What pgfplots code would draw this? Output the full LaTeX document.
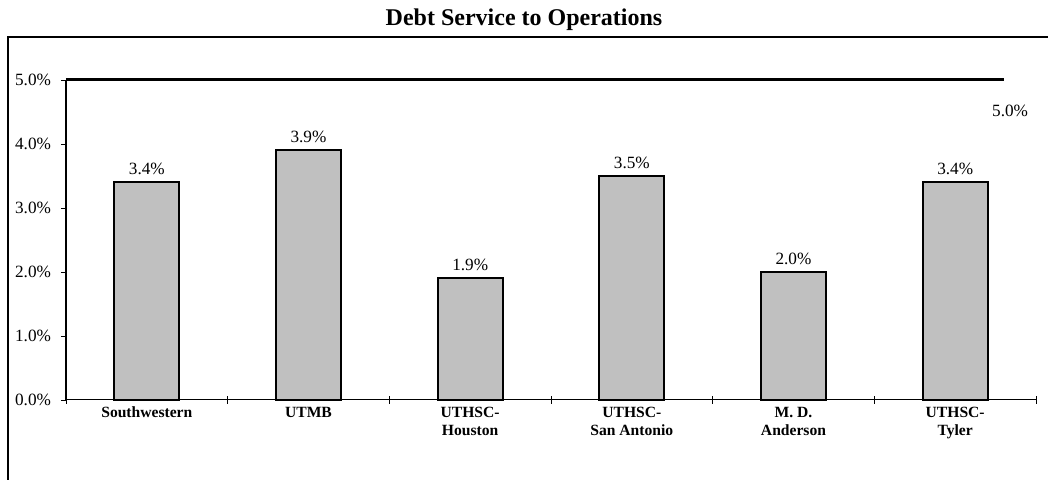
\documentclass[border=0pt]{standalone}
\usepackage{pgfplots}
\pgfplotsset{compat=1.18}
\usepackage{fontspec}
\setmainfont{Liberation Serif}
\definecolor{barfill}{HTML}{C0C0C0}
\begin{document}
\begin{tikzpicture}
\useasboundingbox (0,0) rectangle (524pt,240pt);
\draw[line width=0.7pt] (4pt,-20pt) rectangle (560pt,221.5pt);
\node[font=\bfseries\fontsize{12}{14}\selectfont] at (262pt,230pt) {Debt Service to Operations};
\begin{axis}[
  at={(33pt,40pt)}, anchor=south west,
  scale only axis, width=485pt, height=160pt,
  xmin=-0.5, xmax=5.5, ymin=0, ymax=5,
  axis lines*=left,
  clip=false,
  x axis line style={black, line width=0.5pt, -},
  y axis line style={black, line width=0.75pt, -},
  ytick={0,1,2,3,4,5},
  yticklabel={\pgfmathprintnumber[fixed,fixed zerofill,precision=1]{\tick}\%},
  /pgf/number format/assume math mode=true,
  major y tick style={black, line width=0.4pt},
  major tick length=2.5pt,
  tick align=outside,
  yticklabel style={font=\fontsize{8.6}{10}\selectfont, xshift=-1.5pt},
  xtick={0,1,2,3,4,5},
  major x tick style={draw=none},
  xticklabels={Southwestern, UTMB, UTHSC-\\Houston, UTHSC-\\San Antonio, M. D.\\Anderson, UTHSC-\\Tyler},
  xticklabel style={align=center, font=\bfseries\fontsize{7.8}{9}\selectfont, yshift=2.5pt},
  minor xtick={-0.5,0.5,1.5,2.5,3.5,4.5,5.5},
  minor x tick style={draw=black, line width=0.4pt, yshift=2pt},
  minor tick length=4pt,
]
\addplot[ybar, bar width=32.5pt, fill=barfill, draw=black, line width=1pt,
  nodes near coords={\pgfmathprintnumber[fixed,fixed zerofill,precision=1]{\pgfplotspointmeta}\%},
  every node near coord/.append style={font=\fontsize{8.6}{10}\selectfont, black}]
  coordinates {(0,3.4) (1,3.9) (2,1.9) (3,3.5) (4,2.0) (5,3.4)};
\addplot[black, line width=1.5pt, no marks] coordinates {(-0.5,5) (5.3,5)};
\node[font=\fontsize{8.6}{10}\selectfont] at (axis cs:5.34,4.52) {5.0\%};
\end{axis}
\end{tikzpicture}
\end{document}
